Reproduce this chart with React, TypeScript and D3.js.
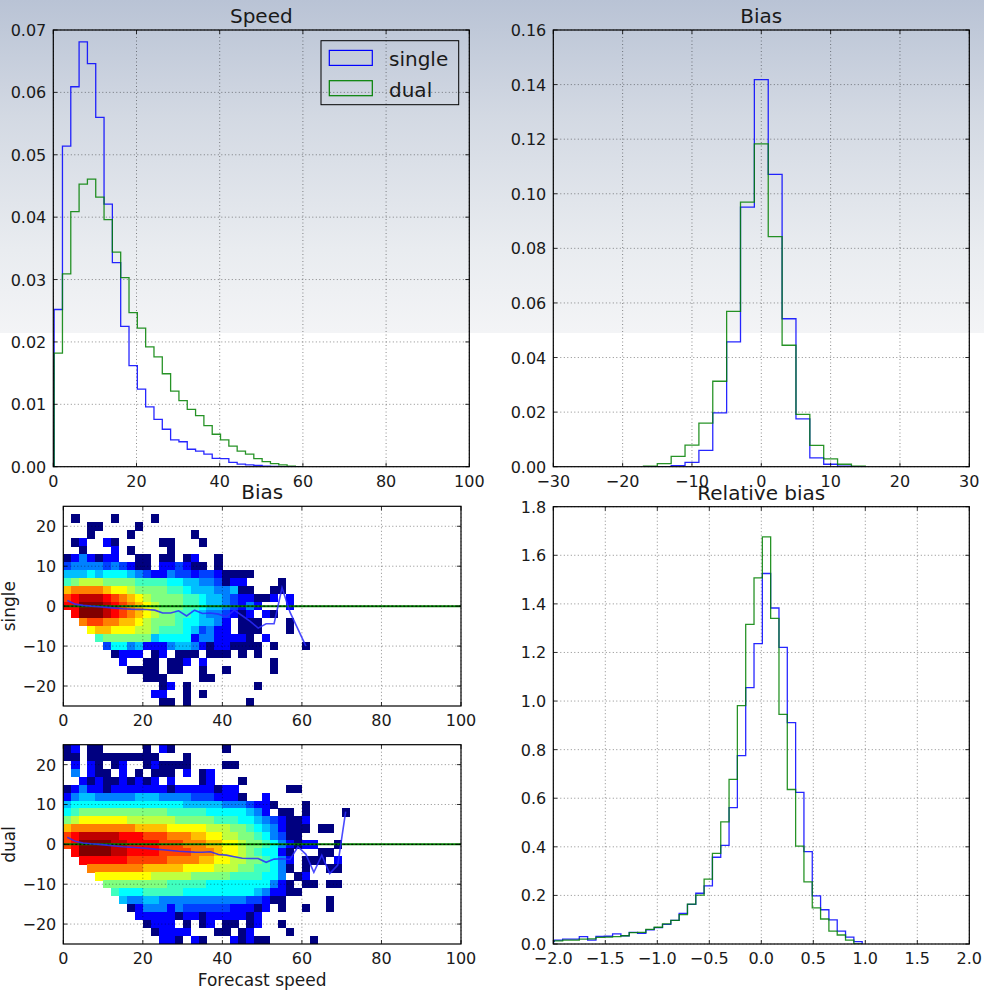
import React from "react";
import * as d3 from "d3";

const W = 984;
const H = 991;
const FONT = "'DejaVu Sans', 'Bitstream Vera Sans', sans-serif";
const BLUE = "#0000ff";
const GREEN = "#008000";

// ---------- Speed histogram (normalised, bins of width 2 starting at 0.2) ----------
const speedBinStart = 0.2;
const speedBinWidth = 2;
const speedSingle = [
  0.0252, 0.0514, 0.0609, 0.0681, 0.0646, 0.056, 0.0421, 0.0327, 0.0225, 0.0162,
  0.01245, 0.0096, 0.0076, 0.006, 0.0043, 0.004, 0.0028, 0.0025, 0.002, 0.00135,
  0.0013, 0.0007, 0.0004, 0.0003, 0.0002, 0.0001, 0.00005, 0, 0, 0,
];
const speedDual = [
  0.0182, 0.0309, 0.0409, 0.0453, 0.0461, 0.0432, 0.0396, 0.0344, 0.0303, 0.0247,
  0.0222, 0.0192, 0.0176, 0.0149, 0.0121, 0.0106, 0.0092, 0.0082, 0.0066, 0.0052,
  0.0043, 0.0033, 0.0025, 0.002, 0.0013, 0.0008, 0.0005, 0.0003, 0.0001, 0,
];
const speedXTicks = [0, 20, 40, 60, 80, 100];
const speedYTicks = [0, 0.01, 0.02, 0.03, 0.04, 0.05, 0.06, 0.07];

// ---------- Bias histogram (bins of width 2 from -17) ----------
const biasBinStart = -17;
const biasBinWidth = 2;
const biasSingle = [
  0, 0, 0.0004, 0.0016, 0.006, 0.0197, 0.0457, 0.0951, 0.1418, 0.1071, 0.0542,
  0.0175, 0.0032, 0.0009, 0.0002, 0,
];
const biasDual = [
  0.0002, 0.0011, 0.0038, 0.0079, 0.016, 0.0313, 0.0569, 0.0969, 0.1183, 0.0843,
  0.0445, 0.0192, 0.0078, 0.0029, 0.0009, 0.0002,
];
const biasXTicks = [-30, -20, -10, 0, 10, 20, 30];
const biasYTicks = [0, 0.02, 0.04, 0.06, 0.08, 0.1, 0.12, 0.14, 0.16];

// ---------- Relative bias histogram (bins of width 0.08 from -2.07) ----------
const relBinStart = -2.07;
const relBinWidth = 0.08;
const relSingle = [
  0.01, 0.016, 0.02, 0.02, 0.03, 0.016, 0.031, 0.032, 0.042, 0.034, 0.048, 0.044,
  0.058, 0.067, 0.081, 0.097, 0.126, 0.163, 0.209, 0.239, 0.357, 0.406, 0.561,
  0.775, 1.055, 1.236, 1.525, 1.383, 1.221, 0.911, 0.624, 0.38, 0.198, 0.141,
  0.099, 0.053, 0.028, 0.01,
];
const relDual = [
  0.013, 0.013, 0.016, 0.016, 0.02, 0.021, 0.027, 0.028, 0.03, 0.034, 0.047, 0.048,
  0.06, 0.069, 0.083, 0.097, 0.121, 0.164, 0.201, 0.267, 0.373, 0.503, 0.678,
  0.981, 1.316, 1.507, 1.676, 1.34, 0.945, 0.636, 0.403, 0.256, 0.149, 0.103,
  0.053, 0.037, 0.016, 0,
];
const relXTicks = [-2, -1.5, -1, -0.5, 0, 0.5, 1, 1.5, 2];
const relYTicks = [0, 0.2, 0.4, 0.6, 0.8, 1, 1.2, 1.4, 1.6, 1.8];

// ---------- 2-D histograms of bias vs forecast speed ----------
// Cells are 2 x 2 (speed x bias); rows run from bias 25 (top) downwards.
// Each character is a log-count level on the scale below, '.' is an empty cell.
const LEVELS = "123456789abcdefgh";
const heatXStart = 0;
const heatCellW = 2;
const heatYTop = 25;
const heatCellH = 2;
const heatCols = 36;
const heatXTicks = [0, 20, 40, 60, 80, 100];
const heatYTicks = [-20, -10, 0, 10, 20];

const singleLevels = [
  "....................................",
  ".1....1....1........................",
  "...11....1..........................",
  "...1....1.......1...................",
  ".13..31.....11...1..................",
  "..1...3.1....1......................",
  "1353133..11.11.13..1................",
  "45555454311.334311.1................",
  "666767776543354434431111............",
  "89aaa999988887766554133....1........",
  "cddddcbba999988766655611..11........",
  "efgggfedcba9999887665433113.3.......",
  "ffhhhgfedcba9998876654353...3.......",
  ".fhhhgfedcba998876554313.31.........",
  "..deeddccba9998776653.111...1.......",
  "...bccbbbaa9888764533.111...1.......",
  "....89999996777735533331.3..........",
  ".....47756333566531331111.1...1.....",
  "......1333.13.111.111.1.1...........",
  ".......3..11.113.3........1.........",
  "........1111.11..1..1.....1.........",
  "..........111....11.................",
  "............13.1........1...........",
  "...........33..1.1..................",
  "............11.1.......1............",
];

const dualLevels = [
  "13.11.....1.31......1...............",
  "11.111111111...1....................",
  ".3.31.13..131111....11..............",
  ".5.311.3.1.111.3.13.................",
  "..3131131313.3...13...1.............",
  "1353313333333133333133......11......",
  "35665555566655554443331..3..........",
  "677777777777777666665554331...1.....",
  "78999999999998888877777653.11.1....1",
  "9abbbbbbaaaaaa99999888776543113.....",
  "cddddddddccccbbbbbaaa9987653111.11..",
  "efgggggfffeeedddccbbaa99875411......",
  "efhhhhggffffeeedddccbba998753133..1.",
  ".fhhhhggffffeeeedddcbba987731...11..",
  "..ffffffeeeeeddddccbbaa998753.111.3.",
  "...dddddddcccccbbbbaaa9988751.1..11.",
  "....bbbbbbbaaaaa999998888775.13.....",
  ".....999999998888877777777531.11.11.",
  "......877788888777777777653311......",
  ".......655665555555555544311.....1..",
  "........135553544444433313.1..1..1..",
  ".........3333313313333313...........",
  "..........1333.1.13.11.13..1........",
  "...........13333...11.13....1.......",
  "............331.31...31311.....1....",
];

// Mean bias per speed bin
const singleMeanSpeed = [1, 3, 5, 7, 9, 11, 13, 15, 17, 19, 21, 23, 25, 27, 29, 31, 33, 35, 37, 39, 41, 43, 45, 47, 49, 51, 53, 55, 57, 61];
const singleMeanBias = [1.4, 0.5, 0.2, 0, -0.15, -0.3, -0.5, -0.65, -0.75, -0.8, -0.85, -1.0, -1.7, -1.7, -1.15, -2.45, -1.0, -1.85, -1.7, -2.0, -2.65, -1.0, -2.4, -3.8, -5.5, -4.4, -4.4, 4.6, -1.5, -10];
const dualMeanSpeed = [1, 3, 5, 7, 9, 11, 13, 15, 17, 19, 21, 23, 25, 27, 29, 31, 33, 35, 37, 39, 41, 43, 45, 47, 49, 51, 53, 55, 57, 59, 61, 63, 65, 67, 69, 71];
const dualMeanBias = [1.8, 0.75, 0.35, 0.15, 0, -0.2, -0.4, -0.6, -0.72, -0.85, -1.0, -1.2, -1.35, -1.55, -1.75, -1.85, -1.95, -2.0, -1.85, -2.55, -2.7, -3.1, -3.5, -3.55, -3.55, -4.5, -3.7, -3.6, -3.8, -0.6, -2.5, -7.0, -2.7, -7.3, -5.2, 8.2];

// ---------- layout ----------
type Box = { left: number; right: number; top: number; bottom: number };
const speedBox: Box = { left: 53.3, right: 469.3, top: 30, bottom: 466.7 };
const biasBox: Box = { left: 553.3, right: 969.3, top: 30, bottom: 466.7 };
const singleBox: Box = { left: 63.3, right: 461, top: 506.3, bottom: 706 };
const dualBox: Box = { left: 63.3, right: 461, top: 744.7, bottom: 944 };
const relBox: Box = { left: 553.3, right: 969.3, top: 506.7, bottom: 944 };

function jet(t: number): string {
  const c = (v: number) => Math.max(0, Math.min(1, v));
  const r = c(1.5 - Math.abs(4 * t - 3));
  const g = c(1.5 - Math.abs(4 * t - 2));
  const b = c(1.5 - Math.abs(4 * t - 1));
  return d3.rgb(r * 255, g * 255, b * 255).formatHex();
}

// Pads / cuts a level row to the grid width
function parseRow(row: string): string[] {
  return row.padEnd(heatCols, ".").slice(0, heatCols).split("");
}

const minus = (s: string) => s.replace("-", "\u2212");

type Scale = d3.ScaleLinear<number, number>;

function stepPath(xs: Scale, ys: Scale, start: number, width: number, values: number[]) {
  const pts: [number, number][] = [[xs(start), ys(0)]];
  values.forEach((v, i) => {
    pts.push([xs(start + i * width), ys(v)]);
    pts.push([xs(start + (i + 1) * width), ys(v)]);
  });
  pts.push([xs(start + values.length * width), ys(0)]);
  return d3.line()(pts) || "";
}

function Axes(props: {
  id: string;
  box: Box;
  xs: Scale;
  ys: Scale;
  xTicks: number[];
  yTicks: number[];
  xFmt: (v: number) => string;
  yFmt: (v: number) => string;
  title: string;
  children?: React.ReactNode;
  overlay?: React.ReactNode;
  xLabel?: string;
  yLabel?: string;
}) {
  const { id, box, xs, ys, xTicks, yTicks, xFmt, yFmt, title } = props;
  const w = box.right - box.left;
  const h = box.bottom - box.top;
  const cx = (box.left + box.right) / 2;
  const cy = (box.top + box.bottom) / 2;
  return (
    <g>
      <defs>
        <clipPath id={id}>
          <rect x={box.left} y={box.top} width={w} height={h} />
        </clipPath>
      </defs>
      <g clipPath={`url(#${id})`}>{props.children}</g>
      {/* dotted grid */}
      <g stroke="#000" strokeWidth={0.6} strokeDasharray="1,2.5" opacity={0.75}>
        {xTicks.map((t) => (
          <line key={"gx" + t} x1={xs(t)} x2={xs(t)} y1={box.top} y2={box.bottom} />
        ))}
        {yTicks.map((t) => (
          <line key={"gy" + t} x1={box.left} x2={box.right} y1={ys(t)} y2={ys(t)} />
        ))}
      </g>
      <g clipPath={`url(#${id})`}>{props.overlay}</g>
      {/* inward ticks on all four sides */}
      <g stroke="#000" strokeWidth={0.8}>
        {xTicks.map((t) => (
          <g key={"tx" + t}>
            <line x1={xs(t)} x2={xs(t)} y1={box.bottom} y2={box.bottom - 4} />
            <line x1={xs(t)} x2={xs(t)} y1={box.top} y2={box.top + 4} />
          </g>
        ))}
        {yTicks.map((t) => (
          <g key={"ty" + t}>
            <line x1={box.left} x2={box.left + 4} y1={ys(t)} y2={ys(t)} />
            <line x1={box.right} x2={box.right - 4} y1={ys(t)} y2={ys(t)} />
          </g>
        ))}
      </g>
      <rect x={box.left} y={box.top} width={w} height={h} fill="none" stroke="#000" strokeWidth={1.2} />
      <g fontFamily={FONT} fontSize={16} fill="#1a1a1a">
        {xTicks.map((t) => (
          <text key={"lx" + t} x={xs(t)} y={box.bottom + 20} textAnchor="middle">
            {minus(xFmt(t))}
          </text>
        ))}
        {yTicks.map((t) => (
          <text key={"ly" + t} x={box.left - 7} y={ys(t) + 6} textAnchor="end">
            {minus(yFmt(t))}
          </text>
        ))}
      </g>
      {title && (
        <text x={cx} y={box.top - 7} textAnchor="middle" fontFamily={FONT} fontSize={20} fill="#1a1a1a">
          {title}
        </text>
      )}
      {props.xLabel && (
        <text x={cx} y={box.bottom + 42} textAnchor="middle" fontFamily={FONT} fontSize={17} fill="#1a1a1a">
          {props.xLabel}
        </text>
      )}
      {props.yLabel && (
        <text
          transform={`translate(15,${cy}) rotate(-90)`}
          textAnchor="middle"
          fontFamily={FONT}
          fontSize={17}
          fill="#1a1a1a"
        >
          {props.yLabel}
        </text>
      )}
    </g>
  );
}

function HistPanel(props: {
  id: string;
  box: Box;
  xDomain: [number, number];
  yDomain: [number, number];
  xTicks: number[];
  yTicks: number[];
  xFmt: (v: number) => string;
  yFmt: (v: number) => string;
  title: string;
  start: number;
  width: number;
  single: number[];
  dual: number[];
  legend?: boolean;
}) {
  const { box } = props;
  const xs = d3.scaleLinear().domain(props.xDomain).range([box.left, box.right]);
  const ys = d3.scaleLinear().domain(props.yDomain).range([box.bottom, box.top]);
  const sPath = stepPath(xs, ys, props.start, props.width, props.single);
  const dPath = stepPath(xs, ys, props.start, props.width, props.dual);
  const lg = { x: box.right - 148.3, y: box.top + 10.7, w: 137.7, h: 64 };
  return (
    <g>
      <Axes
        id={props.id}
        box={box}
        xs={xs}
        ys={ys}
        xTicks={props.xTicks}
        yTicks={props.yTicks}
        xFmt={props.xFmt}
        yFmt={props.yFmt}
        title={props.title}
        overlay={
          <g fill="none" strokeWidth={1.3} strokeLinejoin="miter">
            <path d={sPath} stroke={BLUE} opacity={0.85} />
            <path d={dPath} stroke={GREEN} opacity={0.85} />
          </g>
        }
      />
      {props.legend && (
        <g fontFamily={FONT} fontSize={20} fill="#1a1a1a">
          <rect x={lg.x} y={lg.y} width={lg.w} height={lg.h} fill="none" stroke="#000" strokeWidth={1} />
          <rect x={lg.x + 8.3} y={lg.y + 9.7} width={43} height={15} fill="none" stroke={BLUE} strokeWidth={1.2} />
          <text x={lg.x + 68} y={lg.y + 25.5}>single</text>
          <rect x={lg.x + 8.3} y={lg.y + 40} width={43} height={15} fill="none" stroke={GREEN} strokeWidth={1.2} />
          <text x={lg.x + 68} y={lg.y + 55.8}>dual</text>
        </g>
      )}
    </g>
  );
}

function HeatPanel(props: {
  id: string;
  box: Box;
  levels: string[];
  meanSpeed: number[];
  meanBias: number[];
  title: string;
  yLabel: string;
  xLabel?: string;
}) {
  const { box } = props;
  const xs = d3.scaleLinear().domain([0, 100]).range([box.left, box.right]);
  const ys = d3.scaleLinear().domain([-25, 25]).range([box.bottom, box.top]);
  const color = d3.scaleLinear().domain([0, LEVELS.length - 1]).range([0, 1]);
  const cells: { c: number; r: number; level: number }[] = [];
  props.levels.forEach((row, r) => {
    parseRow(row).forEach((ch, c) => {
      const k = LEVELS.indexOf(ch);
      if (k >= 0) cells.push({ c, r, level: k });
    });
  });
  const meanLine = d3.line<number>()
    .x((_, i) => xs(props.meanSpeed[i]))
    .y((v) => ys(v))(props.meanBias) || "";
  return (
    <Axes
      id={props.id}
      box={box}
      xs={xs}
      ys={ys}
      xTicks={heatXTicks}
      yTicks={heatYTicks}
      xFmt={(v) => String(v)}
      yFmt={(v) => String(v)}
      title={props.title}
      xLabel={props.xLabel}
      yLabel={props.yLabel}
      children={
        <g shapeRendering="crispEdges">
          {cells.map((d) => {
            const x0 = xs(heatXStart + d.c * heatCellW);
            const x1 = xs(heatXStart + (d.c + 1) * heatCellW);
            const y0 = ys(heatYTop - d.r * heatCellH);
            const y1 = ys(heatYTop - (d.r + 1) * heatCellH);
            return (
              <rect key={d.r + "_" + d.c} x={x0} y={y0} width={x1 - x0 + 0.3} height={y1 - y0 + 0.3} fill={jet(color(d.level))} />
            );
          })}
        </g>
      }
      overlay={
        <g>
          <line x1={box.left} x2={box.right} y1={ys(0)} y2={ys(0)} stroke={GREEN} strokeWidth={2} />
          <line x1={box.left} x2={box.right} y1={ys(0)} y2={ys(0)} stroke="#000" strokeWidth={1} strokeDasharray="2,2" />
          <path d={meanLine} fill="none" stroke="#2a2aff" strokeWidth={1.6} opacity={0.85} />
        </g>
      }
    />
  );
}

export default function App() {
  return (
    <svg
      width={W}
      height={H}
      viewBox={`0 0 ${W} ${H}`}
      style={{ position: "absolute", left: 0, top: 0, display: "block" }}
    >
      <defs>
        <linearGradient id="sky" x1="0" y1="0" x2="0" y2="1">
          <stop offset="0" stopColor="#b9c3d5" />
          <stop offset="0.35" stopColor="#d3d9e3" />
          <stop offset="0.75" stopColor="#e9ecf0" />
          <stop offset="1" stopColor="#f3f4f6" />
        </linearGradient>
      </defs>
      <rect x={0} y={0} width={W} height={H} fill="#ffffff" />
      <rect x={0} y={0} width={W} height={333} fill="url(#sky)" />

      <HistPanel
        id="clip-speed"
        box={speedBox}
        xDomain={[0, 100]}
        yDomain={[0, 0.07]}
        xTicks={speedXTicks}
        yTicks={speedYTicks}
        xFmt={(v) => String(v)}
        yFmt={(v) => v.toFixed(2)}
        title="Speed"
        start={speedBinStart}
        width={speedBinWidth}
        single={speedSingle}
        dual={speedDual}
        legend
      />
      <HistPanel
        id="clip-bias"
        box={biasBox}
        xDomain={[-30, 30]}
        yDomain={[0, 0.16]}
        xTicks={biasXTicks}
        yTicks={biasYTicks}
        xFmt={(v) => String(v)}
        yFmt={(v) => v.toFixed(2)}
        title="Bias"
        start={biasBinStart}
        width={biasBinWidth}
        single={biasSingle}
        dual={biasDual}
      />
      <HistPanel
        id="clip-rel"
        box={relBox}
        xDomain={[-2, 2]}
        yDomain={[0, 1.8]}
        xTicks={relXTicks}
        yTicks={relYTicks}
        xFmt={(v) => v.toFixed(1)}
        yFmt={(v) => v.toFixed(1)}
        title="Relative bias"
        start={relBinStart}
        width={relBinWidth}
        single={relSingle}
        dual={relDual}
      />
      <HeatPanel
        id="clip-single"
        box={singleBox}
        levels={singleLevels}
        meanSpeed={singleMeanSpeed}
        meanBias={singleMeanBias}
        title="Bias"
        yLabel="single"
      />
      <HeatPanel
        id="clip-dual"
        box={dualBox}
        levels={dualLevels}
        meanSpeed={dualMeanSpeed}
        meanBias={dualMeanBias}
        title=""
        yLabel="dual"
        xLabel="Forecast speed"
      />
    </svg>
  );
}
